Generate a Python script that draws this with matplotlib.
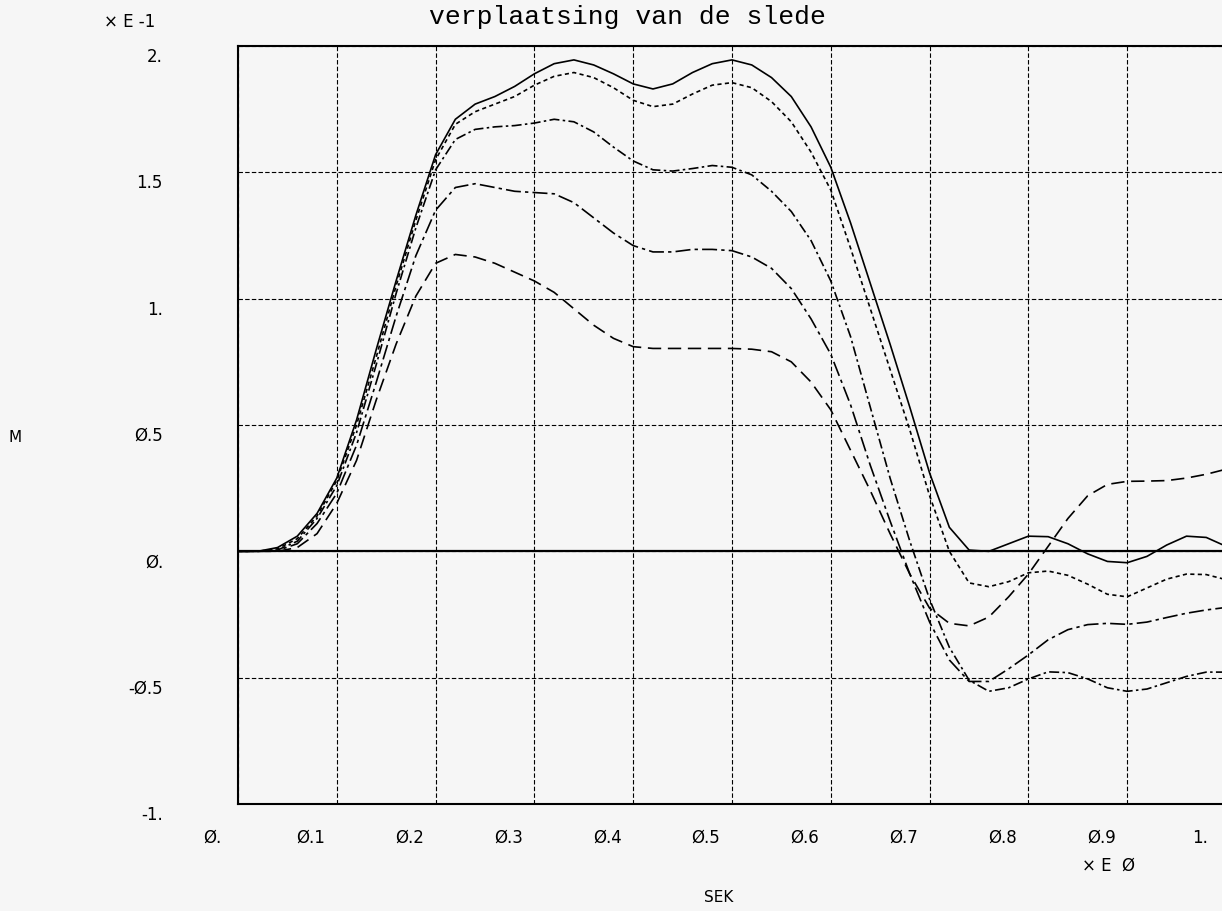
import matplotlib
matplotlib.use("Agg")
import matplotlib.pyplot as plt
from matplotlib.transforms import ScaledTranslation

# tijd (x E 0 sek) and verplaatsing (x E -1 m)
t = [0.00, 0.02, 0.04, 0.06, 0.08, 0.10, 0.12, 0.14, 0.16, 0.18,
     0.20, 0.22, 0.24, 0.26, 0.28, 0.30, 0.32, 0.34, 0.36, 0.38,
     0.40, 0.42, 0.44, 0.46, 0.48, 0.50, 0.52, 0.54, 0.56, 0.58,
     0.60, 0.62, 0.64, 0.66, 0.68, 0.70, 0.72, 0.74, 0.76, 0.78,
     0.80, 0.82, 0.84, 0.86, 0.88, 0.90, 0.92, 0.94, 0.96, 0.98, 1.00]

s1 = [0, 0, 0.015, 0.06, 0.15, 0.29, 0.52, 0.80, 1.07, 1.33,
      1.57, 1.71, 1.77, 1.80, 1.84, 1.89, 1.93, 1.945, 1.925, 1.89,
      1.85, 1.83, 1.85, 1.895, 1.93, 1.945, 1.925, 1.875, 1.80, 1.68,
      1.52, 1.30, 1.06, 0.82, 0.57, 0.31, 0.095, 0.005, 0.00, 0.03,
      0.06, 0.058, 0.03, -0.01, -0.04, -0.045, -0.02, 0.025, 0.06, 0.055, 0.02]

s2 = [0, 0, 0.01, 0.05, 0.14, 0.28, 0.50, 0.77, 1.05, 1.31,
      1.55, 1.69, 1.74, 1.77, 1.80, 1.845, 1.88, 1.895, 1.875, 1.835,
      1.785, 1.76, 1.77, 1.81, 1.845, 1.855, 1.835, 1.78, 1.70, 1.58,
      1.43, 1.20, 0.96, 0.72, 0.48, 0.22, 0.00, -0.125, -0.14, -0.12,
      -0.085, -0.078, -0.095, -0.13, -0.17, -0.18, -0.145, -0.11, -0.09, -0.092, -0.112]

s3 = [0, 0, 0.005, 0.04, 0.13, 0.26, 0.47, 0.74, 1.02, 1.28,
      1.51, 1.63, 1.67, 1.68, 1.685, 1.695, 1.71, 1.70, 1.66, 1.60,
      1.545, 1.51, 1.505, 1.515, 1.527, 1.52, 1.49, 1.425, 1.345, 1.23,
      1.07, 0.85, 0.57, 0.29, 0.04, -0.19, -0.38, -0.51, -0.554, -0.54,
      -0.505, -0.477, -0.48, -0.505, -0.54, -0.554, -0.545, -0.52, -0.495, -0.478, -0.478]

s4 = [0, 0, 0.003, 0.03, 0.11, 0.23, 0.42, 0.67, 0.93, 1.17,
      1.35, 1.44, 1.455, 1.44, 1.425, 1.42, 1.415, 1.38, 1.32, 1.26,
      1.21, 1.185, 1.185, 1.195, 1.195, 1.19, 1.165, 1.12, 1.04, 0.92,
      0.78, 0.58, 0.34, 0.12, -0.09, -0.28, -0.43, -0.515, -0.515, -0.465,
      -0.41, -0.35, -0.31, -0.29, -0.285, -0.289, -0.28, -0.262, -0.245, -0.232, -0.222]

s5 = [0, 0, 0.0, 0.015, 0.07, 0.19, 0.36, 0.60, 0.82, 1.01,
      1.14, 1.175, 1.165, 1.14, 1.105, 1.07, 1.025, 0.96, 0.895, 0.843,
      0.81, 0.803, 0.803, 0.803, 0.803, 0.803, 0.80, 0.79, 0.75, 0.67,
      0.56, 0.40, 0.24, 0.07, -0.09, -0.225, -0.285, -0.295, -0.26, -0.18,
      -0.09, 0.02, 0.13, 0.22, 0.265, 0.277, 0.278, 0.28, 0.29, 0.305, 0.325]

x_ticks = [0.0, 0.1, 0.2, 0.3, 0.4, 0.5, 0.6, 0.7, 0.8, 0.9, 1.0]
x_labels = ["Ø.", "Ø.1", "Ø.2", "Ø.3", "Ø.4", "Ø.5", "Ø.6", "Ø.7", "Ø.8", "Ø.9", "1."]
y_ticks = [-1.0, -0.5, 0.0, 0.5, 1.0, 1.5, 2.0]
y_labels = ["-1.", "-Ø.5", "Ø.", "Ø.5", "1.", "1.5", "2."]

bg = "#f6f6f6"
fig = plt.figure(figsize=(12.22, 9.12), dpi=100, facecolor=bg)
ax = fig.add_axes([238 / 1222, 107 / 912, 988 / 1222, 758 / 912])
ax.set_facecolor(bg)
ax.set_xlim(0, 1)
ax.set_ylim(-1, 2)

ax.set_xticks(x_ticks)
ax.set_yticks(y_ticks)
ax.set_xticklabels([])
ax.set_yticklabels([])
ax.tick_params(length=0)
ax.grid(True, color="k", lw=0.8, ls=(0, (4, 2)))
ax.axhline(0, color="k", lw=1.6)
for sp in ["left", "top", "bottom"]:
    ax.spines[sp].set_linewidth(1.5)
ax.spines["right"].set_visible(False)

ax.plot(t, s1, color="k", lw=1.2, ls="-")
ax.plot(t, s2, color="k", lw=1.2, ls=(0, (2.5, 2)))
ax.plot(t, s3, color="k", lw=1.2, ls=(0, (6, 2, 1.5, 2)))
ax.plot(t, s4, color="k", lw=1.2, ls=(0, (9, 2.5, 2, 2.5)))
ax.plot(t, s5, color="k", lw=1.2, ls=(0, (8, 4)))

# tick labels, placed the way the plotter put them
yoff = ScaledTranslation(0, -10 / 100, fig.dpi_scale_trans)
for v, lab in zip(y_ticks, y_labels):
    ax.text(-75 / 988, v, lab, transform=ax.get_yaxis_transform() + yoff,
            ha="right", va="center", fontsize=12)
xoff = ScaledTranslation(-26 / 100, -33 / 100, fig.dpi_scale_trans)
for v, lab in zip(x_ticks, x_labels):
    ax.text(v, 0, lab, transform=ax.get_xaxis_transform() + xoff,
            ha="center", va="center", fontsize=12)

fig.text(627 / 1222, 1 - 17 / 912, "verplaatsing van de slede",
         family="Liberation Mono", fontsize=19, ha="center", va="center")
fig.text(130 / 1222, 1 - 22 / 912, "× E -1", fontsize=12, ha="center", va="center")
fig.text(1109 / 1222, 1 - 866 / 912, "× E  Ø", fontsize=12, ha="center", va="center")
fig.text(719 / 1222, 1 - 898 / 912, "SEK", fontsize=11, ha="center", va="center")
fig.text(15 / 1222, 1 - 438 / 912, "M", fontsize=11, ha="center", va="center")

fig.savefig("out.png", dpi=100, facecolor=bg)
